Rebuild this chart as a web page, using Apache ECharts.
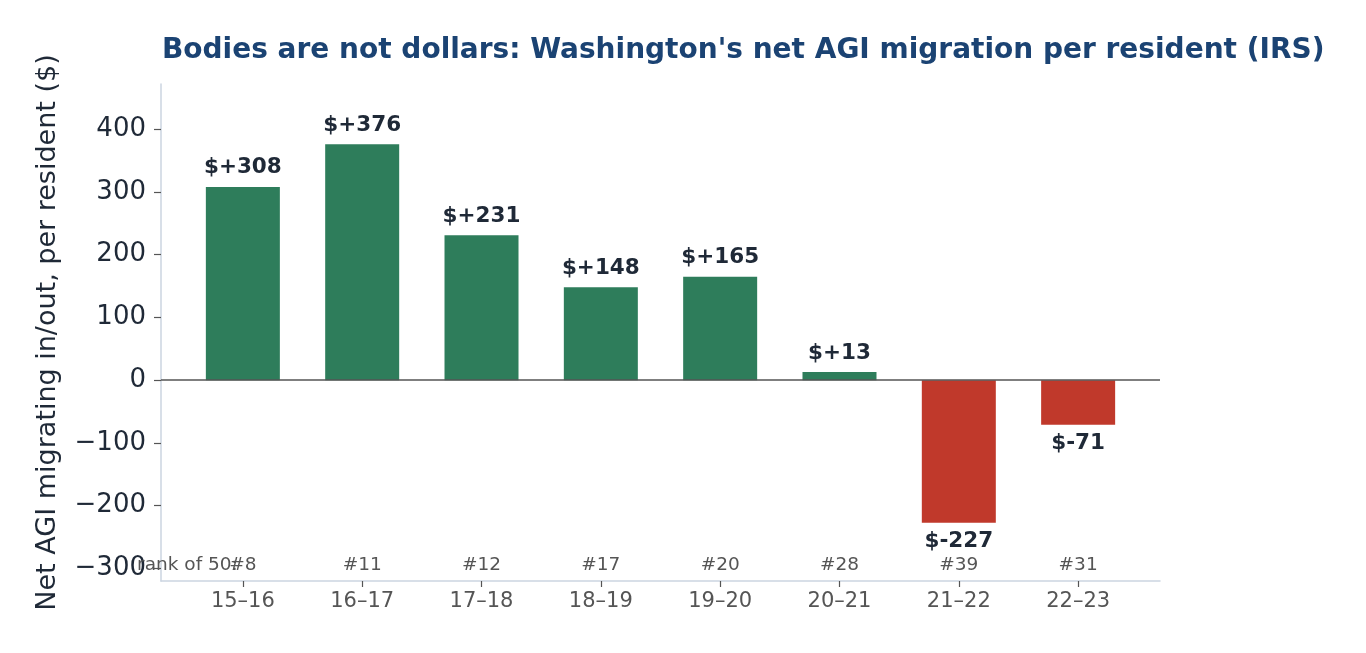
<!DOCTYPE html>
<html>
<head>
<meta charset="utf-8">
<script src="https://cdn.jsdelivr.net/npm/echarts@6/dist/echarts.min.js"></script>
<style>
  html, body { margin: 0; padding: 0; background: #fff; }
  #chart { width: 1366px; height: 653px; }
</style>
</head>
<body>
<div id="chart"></div>
<script>
// tax years and values
const years = ['15–16', '16–17', '17–18', '18–19', '19–20', '20–21', '21–22', '22–23'];
const netAgi = [308, 376, 231, 148, 165, 13, -227, -71];
const ranks = [8, 11, 12, 17, 20, 28, 39, 31];
const yTicks = [-300, -200, -100, 0, 100, 200, 300, 400];

const font = 'DejaVu Sans';
const myEcharts = echarts.init(document.getElementById('chart'));

const barData = netAgi.map((v, i) => ({
  value: [i, v],
  itemStyle: { color: v >= 0 ? '#2e7d5b' : '#c0392b' },
  label: { position: v >= 0 ? 'top' : 'bottom' }
}));

// rank row sits just above the bottom spine
const rankY = -295;
const rankData = ranks.map((r, i) => ({ value: [i, rankY], name: '#' + r }));
rankData.push({
  value: [0, rankY],
  name: 'rank of 50:',
  label: { align: 'right', offset: [-5, 0] }
});

const options = {
  animation: false,
  title: {
    text: "Bodies are not dollars: Washington's net AGI migration per resident (IRS)",
    left: 157,
    top: 32,
    textStyle: { fontFamily: font, fontSize: 28, fontWeight: 'bold', color: '#1b4373' }
  },
  grid: { left: 161, right: 206, top: 84, bottom: 72 },
  xAxis: {
    type: 'value',
    min: -0.686,
    max: 7.686,
    splitLine: { show: false },
    axisLine: { show: true, onZero: false, lineStyle: { color: '#cbd5e1', width: 1.5 } },
    axisTick: {
      show: true,
      customValues: years.map((y, i) => i),
      length: 6,
      lineStyle: { color: '#555', width: 1.2 }
    },
    axisLabel: {
      customValues: years.map((y, i) => i),
      formatter: v => years[Math.round(v)],
      color: '#555',
      fontFamily: font,
      fontSize: 21,
      margin: 10
    }
  },
  yAxis: {
    type: 'value',
    min: -320,
    max: 472,
    name: 'Net AGI migrating in/out, per resident ($)',
    nameLocation: 'middle',
    nameGap: 100,
    nameTextStyle: { fontFamily: font, fontSize: 27, color: '#1f2937' },
    splitLine: { show: false },
    axisLine: { show: true, onZero: false, lineStyle: { color: '#cbd5e1', width: 1.5 } },
    axisTick: {
      show: true,
      customValues: yTicks,
      length: 7,
      lineStyle: { color: '#555', width: 1.2 }
    },
    axisLabel: {
      customValues: yTicks,
      formatter: v => (v < 0 ? '−' + Math.abs(v) : '' + v),
      color: '#1f2937',
      fontFamily: font,
      fontSize: 26,
      margin: 15
    }
  },
  series: [
    {
      type: 'bar',
      data: barData,
      barWidth: 74,
      label: {
        show: true,
        distance: 8,
        formatter: p => '$' + (p.value[1] >= 0 ? '+' : '') + p.value[1],
        fontFamily: font,
        fontSize: 21.5,
        fontWeight: 'bold',
        color: '#1f2937'
      },
      markLine: {
        silent: true,
        symbol: 'none',
        label: { show: false },
        lineStyle: { color: '#555', width: 1.5, type: 'solid' },
        data: [{ yAxis: 0 }]
      }
    },
    {
      type: 'scatter',
      data: rankData,
      symbolSize: 0,
      silent: true,
      itemStyle: { opacity: 1 },
      label: {
        show: true,
        position: 'inside',
        formatter: p => p.name,
        color: '#555',
        opacity: 1,
        fontFamily: font,
        fontSize: 18.5
      }
    }
  ]
};

myEcharts.setOption(options, true);
window.addEventListener('resize', function () {
  myEcharts.resize();
});
</script>
</body>
</html>
